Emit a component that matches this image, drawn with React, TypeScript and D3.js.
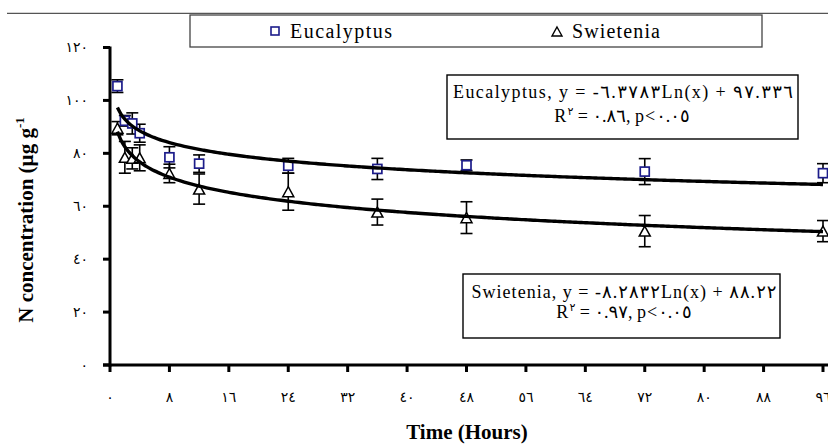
import React from "react";
import * as d3 from "d3";

const hours = [1, 2, 3, 4, 8, 12, 24, 36, 48, 72, 96];
const eucMean = [105.4, 92.3, 91.3, 87.6, 78.5, 76.1, 75.3, 74.1, 75.5, 73.1, 72.5];
const eucErr = [2.4, 2.0, 4.0, 3.4, 4.0, 3.3, 2.8, 4.0, 2.0, 4.9, 3.6];
const swiMean = [89.5, 78.5, 78.1, 78.3, 72.4, 66.5, 65.5, 57.8, 55.7, 50.6, 50.6];
const swiErr = [2.5, 6.0, 4.0, 4.9, 3.5, 5.7, 7.0, 4.9, 6.0, 5.9, 4.0];

const xTicks = [0, 8, 16, 24, 32, 40, 48, 56, 64, 72, 80, 88, 96];
const xTickLabels = ["٠", "٨", "١٦", "٢٤", "٣٢", "٤٠", "٤٨", "٥٦", "٦٤", "٧٢", "٨٠", "٨٨", "٩٦"];
const yTicks = [0, 20, 40, 60, 80, 100, 120];
const yTickLabels = ["٠", "٢٠", "٤٠", "٦٠", "٨٠", "١٠٠", "١٢٠"];

// trendline coefficients (y = a*ln(x) + b) as printed on the chart
const eucFit = { a: -6.3783, b: 97.336 };
const swiFit = { a: -8.2832, b: 88.22 };

const seriesNames = ["Eucalyptus", "Swietenia"];
const eqLines1 = [
  "Eucalyptus, y = -٦.٣٧٨٣Ln(x) + ٩٧.٣٣٦",
  "Swietenia, y = -٨.٢٨٣٢Ln(x) + ٨٨.٢٢",
];
const r2Values = ["٠.٨٦", "٠.٩٧"];

const BLUE = "#1c1c8a";
const SERIF = "'Liberation Serif', 'Times New Roman', 'DejaVu Sans', serif";
const DIGITS = "'Liberation Serif', 'DejaVu Sans', serif";

export default function App() {
  const W = 828;
  const H = 448;
  const x = d3.scaleLinear().domain([0, 96]).range([110, 823]);
  const y = d3.scaleLinear().domain([0, 120]).range([365, 47.5]);

  const fitLine = (f: { a: number; b: number }) =>
    d3
      .line<number>()
      .x((t) => x(t))
      .y((t) => y(f.a * Math.log(t) + f.b))
      .curve(d3.curveMonotoneX)(d3.range(1, 96.01, 0.5)) || "";

  const triPath = (cx: number, cy: number, w: number, h: number) =>
    `M${cx},${cy - h / 2} L${cx + w / 2},${cy + h / 2} L${cx - w / 2},${cy + h / 2} Z`;

  const errBars = (means: number[], errs: number[], key: string) =>
    hours.map((t, i) => {
      const cx = x(t);
      const y1 = y(means[i] + errs[i]);
      const y2 = y(means[i] - errs[i]);
      return (
        <g key={key + i} stroke="#000" strokeWidth={1.6}>
          <line x1={cx} x2={cx} y1={y1} y2={y2} />
          <line x1={cx - 6} x2={cx + 6} y1={y1} y2={y1} />
          <line x1={cx - 6} x2={cx + 6} y1={y2} y2={y2} />
        </g>
      );
    });

  return (
    <svg
      width={W}
      height={H}
      style={{ position: "absolute", left: 0, top: 0, display: "block", background: "#fff" }}
    >
      <rect x={0} y={0} width={W} height={H} fill="#fff" />
      {/* top border line */}
      <line x1={7} x2={W} y1={13.3} y2={13.3} stroke="#555" strokeWidth={1.3} />

      {/* legend */}
      <rect x={190} y={15} width={572} height={32} fill="#fff" stroke="#444" strokeWidth={1.3} />
      <rect x={271} y={27} width={8} height={8} fill="#fff" stroke={BLUE} strokeWidth={1.6} />
      <text x={290} y={37.5} fontFamily={SERIF} fontSize={20} textLength={102} lengthAdjust="spacing">
        {seriesNames[0]}
      </text>
      <path d={triPath(557, 31.5, 10, 9)} fill="#fff" stroke="#000" strokeWidth={1.4} />
      <text x={572} y={37.5} fontFamily={SERIF} fontSize={20} textLength={88} lengthAdjust="spacing">
        {seriesNames[1]}
      </text>

      {/* equation boxes */}
      <rect x={447} y={75} width={351} height={64} fill="#fff" stroke="#000" strokeWidth={1.4} />
      <text x={623} y={98} textAnchor="middle" fontFamily={SERIF} fontSize={18} textLength={340} lengthAdjust="spacing">
        {eqLines1[0]}
      </text>
      <text x={622} y={122} textAnchor="middle" fontFamily={SERIF} fontSize={18} letterSpacing={1}>
        R<tspan fontSize={11} dy={-7}>٢</tspan>
        <tspan dy={7}>{"\u200E = " + r2Values[0] + ", p<٠.٠٥"}</tspan>
      </text>

      <rect x={463} y={274} width={317} height={64} fill="#fff" stroke="#000" strokeWidth={1.4} />
      <text x={624} y={298} textAnchor="middle" fontFamily={SERIF} fontSize={18} textLength={305} lengthAdjust="spacing">
        {eqLines1[1]}
      </text>
      <text x={624} y={318} textAnchor="middle" fontFamily={SERIF} fontSize={18} letterSpacing={1}>
        R<tspan fontSize={11} dy={-7}>٢</tspan>
        <tspan dy={7}>{"\u200E = " + r2Values[1] + ", p<٠.٠٥"}</tspan>
      </text>

      {/* axes */}
      <line x1={x(0)} x2={x(0)} y1={y(120) - 1} y2={y(0) + 1.5} stroke="#000" strokeWidth={3} />
      <line x1={x(0) - 7} x2={W} y1={y(0)} y2={y(0)} stroke="#000" strokeWidth={3} />
      {yTicks.map((v, i) => (
        <g key={"yt" + i}>
          <line x1={x(0) - 7} x2={x(0)} y1={y(v)} y2={y(v)} stroke="#000" strokeWidth={3} />
          <text
            x={88}
            y={y(v) + 4.5}
            textAnchor="end"
            fontFamily={DIGITS}
            fontSize={14}
            letterSpacing={2}
          >
            {yTickLabels[i]}
          </text>
        </g>
      ))}
      {xTicks.map((v, i) => (
        <g key={"xt" + i}>
          <line x1={x(v)} x2={x(v)} y1={y(0)} y2={y(0) + 7} stroke="#000" strokeWidth={3} />
          <text
            x={x(v)}
            y={402}
            textAnchor="middle"
            fontFamily={DIGITS}
            fontSize={14}
            letterSpacing={2}
          >
            {xTickLabels[i]}
          </text>
        </g>
      ))}

      {/* axis titles */}
      <text x={467} y={439} textAnchor="middle" fontFamily={SERIF} fontWeight="bold" fontSize={21}>
        Time (Hours)
      </text>
      <text
        transform="translate(33,220) rotate(-90)"
        textAnchor="middle"
        fontFamily={SERIF}
        fontWeight="bold"
        fontSize={21}
      >
        N concentration (µg g<tspan fontSize={13} dy={-9}>-1</tspan>
      </text>

      {/* error bars */}
      {errBars(eucMean, eucErr, "e")}
      {errBars(swiMean, swiErr, "s")}

      {/* markers */}
      {hours.map((t, i) => (
        <rect
          key={"em" + i}
          x={x(t) - 4.5}
          y={y(eucMean[i]) - 4.5}
          width={9}
          height={9}
          fill="#fff"
          stroke={BLUE}
          strokeWidth={1.7}
        />
      ))}
      {hours.map((t, i) => (
        <path
          key={"sm" + i}
          d={triPath(x(t), y(swiMean[i]), 11, 10)}
          fill="#fff"
          stroke="#000"
          strokeWidth={1.5}
        />
      ))}

      {/* logarithmic trendlines */}
      <path d={fitLine(eucFit)} fill="none" stroke="#000" strokeWidth={3.4} />
      <path d={fitLine(swiFit)} fill="none" stroke="#000" strokeWidth={3.4} />
    </svg>
  );
}
